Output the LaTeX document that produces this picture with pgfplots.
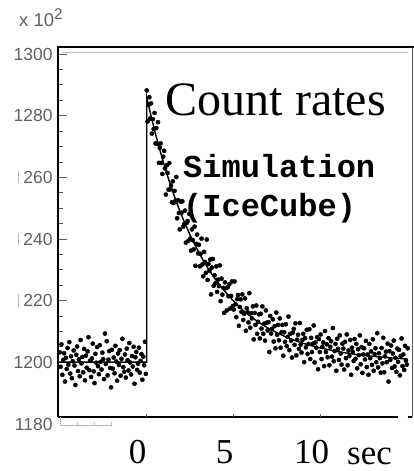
\documentclass[border=0pt]{standalone}
\usepackage{pgfplots}
\pgfplotsset{compat=1.18}
\usepackage{fontspec}
\setmainfont{Liberation Serif}
\newfontfamily\sansf{Liberation Sans}
\newfontfamily\monof{Liberation Mono}
\definecolor{tickgray}{gray}{0.35}
\definecolor{labgray}{gray}{0.38}
\newcommand{\stub}{\makebox[9.7pt][c]{\color{gray!55}\rule{0.8pt}{12.5pt}}}
\begin{document}
\begin{tikzpicture}
\begin{axis}[
  at={(0,0)}, anchor=south west,
  scale only axis, width=354pt, height=370pt,
  xmin=-5.1, xmax=15.25, ymin=1182.2, ymax=1302.3,
  axis line style={draw=none},
  clip=false,
  xtick={0,5,10}, xticklabels={0,5,10},
  minor x tick num=0,
  xtick pos=bottom, ytick pos=left,
  tick align=inside,
  ytick={1200,1220,1240,1260,1280,1300},
  yticklabels={1200,\stub 220,\stub 240,\stub 260,1280,1300},
  minor y tick num=3,
  major tick length=9pt, minor tick length=4.5pt,
  ytick style={tickgray, line width=0.8pt},
  xtick style={draw=none},
  xticklabel style={font=\fontsize{35}{35}\selectfont, inner sep=0pt, anchor=north, yshift=-23pt, xshift=-9pt},
  yticklabel style={font=\sansf\fontsize{17.5}{17.5}\selectfont, text=labgray, inner sep=0pt, anchor=east, xshift=-5.3pt},
  /pgf/number format/assume math mode=true,
]
% frame
\draw[black, line width=1.6pt] (rel axis cs:0,0) -- (rel axis cs:0,1) -- (rel axis cs:1.005,1);
\draw[black, line width=1.6pt] (rel axis cs:0,0) -- (rel axis cs:0.96,0);
\draw[black, line width=1.6pt] (rel axis cs:0.988,0) -- (rel axis cs:1,0);
\draw[gray!70!black, line width=0.7pt] (rel axis cs:1,1) -- (rel axis cs:1,0);
\draw[gray!55, line width=1.3pt] (rel axis cs:0.012,0.985) -- (rel axis cs:0.99,0.985);
% small x ticks
\draw[tickgray, line width=0.8pt] (axis cs:0,1182.2) -- (axis cs:0,1183.2);
\draw[tickgray, line width=0.8pt] (axis cs:5,1182.2) -- (axis cs:5,1183.2);
\draw[tickgray, line width=0.8pt] (axis cs:10,1182.2) -- (axis cs:10,1183.2);

\addplot[only marks, mark=*, mark size=2.1pt, black] table {
x y
-5.00 1203.2
-4.95 1198.5
-4.90 1205.8
-4.85 1195.9
-4.80 1200.7
-4.75 1202.9
-4.70 1193.7
-4.65 1201.4
-4.60 1197.8
-4.55 1204.6
-4.50 1199.2
-4.45 1206.5
-4.40 1196.3
-4.35 1201.9
-4.30 1194.8
-4.25 1200.3
-4.20 1203.8
-4.15 1198.9
-4.10 1192.6
-4.05 1202.4
-4.00 1205.1
-3.95 1197.1
-3.90 1200.9
-3.85 1195.4
-3.80 1207.2
-3.75 1199.6
-3.70 1201.7
-3.65 1196.7
-3.60 1204.3
-3.55 1194.1
-3.50 1202.1
-3.45 1198.2
-3.40 1203.5
-3.35 1208.1
-3.30 1197.4
-3.25 1200.5
-3.20 1195.2
-3.15 1201.2
-3.10 1206.0
-3.05 1197.0
-3.00 1193.2
-2.95 1202.7
-2.90 1199.8
-2.85 1204.9
-2.80 1198.7
-2.75 1196.1
-2.70 1205.5
-2.65 1200.1
-2.60 1197.6
-2.55 1203.1
-2.50 1201.0
-2.45 1194.5
-2.40 1209.3
-2.35 1199.4
-2.30 1206.8
-2.25 1195.7
-2.20 1200.8
-2.15 1203.6
-2.10 1198.1
-2.05 1191.8
-2.00 1204.0
-1.95 1197.9
-1.90 1201.5
-1.85 1196.4
-1.80 1205.3
-1.75 1200.2
-1.70 1194.0
-1.65 1202.8
-1.60 1199.1
-1.55 1203.9
-1.50 1195.6
-1.45 1201.1
-1.40 1207.6
-1.35 1198.4
-1.30 1196.9
-1.25 1202.5
-1.20 1195.0
-1.15 1204.4
-1.10 1200.6
-1.05 1197.3
-1.00 1206.2
-0.95 1199.9
-0.90 1196.0
-0.85 1202.0
-0.80 1198.6
-0.75 1205.0
-0.70 1193.0
-0.65 1201.6
-0.60 1203.3
-0.55 1197.5
-0.50 1199.5
-0.45 1204.7
-0.40 1196.6
-0.35 1200.4
-0.30 1202.6
-0.25 1194.3
-0.20 1201.8
-0.15 1199.0
-0.10 1206.6
-0.05 1196.2
0.00 1288.2
0.05 1278.1
0.10 1283.5
0.15 1286.0
0.20 1279.1
0.25 1284.0
0.30 1274.2
0.35 1278.9
0.40 1275.7
0.45 1280.9
0.50 1271.0
0.55 1276.0
0.60 1270.9
0.65 1277.9
0.70 1264.7
0.75 1269.6
0.80 1271.0
0.85 1264.7
0.90 1261.1
0.95 1266.7
1.00 1268.6
1.05 1262.9
1.10 1254.4
1.15 1263.9
1.20 1261.4
1.25 1256.0
1.30 1264.6
1.35 1256.1
1.40 1257.3
1.45 1251.9
1.50 1258.7
1.55 1251.7
1.60 1255.6
1.65 1252.4
1.70 1260.1
1.75 1246.7
1.80 1252.6
1.85 1248.4
1.90 1243.1
1.95 1252.1
2.00 1248.5
2.05 1252.2
2.10 1244.0
2.15 1244.8
2.20 1249.2
2.25 1238.8
2.30 1245.2
2.35 1245.8
2.40 1239.4
2.45 1248.1
2.50 1240.1
2.55 1236.2
2.60 1243.1
2.65 1239.6
2.70 1236.6
2.75 1244.0
2.80 1231.3
2.85 1238.4
2.90 1241.4
2.95 1235.3
3.00 1238.1
3.05 1231.1
3.10 1235.2
3.15 1240.1
3.20 1231.7
3.25 1227.9
3.30 1235.8
3.35 1232.5
3.40 1229.0
3.45 1239.8
3.50 1226.7
3.55 1231.9
3.60 1229.7
3.65 1233.3
3.70 1222.0
3.75 1230.7
3.80 1233.5
3.85 1224.8
3.90 1228.2
3.95 1225.6
4.00 1231.1
4.05 1222.8
4.10 1226.8
4.15 1224.7
4.20 1231.4
4.25 1219.8
4.30 1227.1
4.35 1221.9
4.40 1224.1
4.45 1216.0
4.50 1225.9
4.55 1224.0
4.60 1216.8
4.65 1224.3
4.70 1221.4
4.75 1225.3
4.80 1217.4
4.85 1221.5
4.90 1226.2
4.95 1218.2
5.00 1217.1
5.05 1226.2
5.10 1218.8
5.15 1214.6
5.20 1220.5
5.25 1221.8
5.30 1211.8
5.35 1217.9
5.40 1220.4
5.45 1216.3
5.50 1222.0
5.55 1213.7
5.60 1215.7
5.65 1220.7
5.70 1210.2
5.75 1217.5
5.80 1216.2
5.85 1212.9
5.90 1222.4
5.95 1211.2
6.00 1215.9
6.05 1214.2
6.10 1218.1
6.15 1207.4
6.20 1216.0
6.25 1212.1
6.30 1218.4
6.35 1209.2
6.40 1213.1
6.45 1215.5
6.50 1207.7
6.55 1215.7
6.60 1210.9
6.65 1218.1
6.70 1209.2
6.75 1212.5
6.80 1207.0
6.85 1216.8
6.90 1212.8
6.95 1210.3
7.00 1213.0
7.05 1203.3
7.10 1215.0
7.15 1209.3
7.20 1210.8
7.25 1213.9
7.30 1206.7
7.35 1211.7
7.40 1204.5
7.45 1216.1
7.50 1208.9
7.55 1212.1
7.60 1207.1
7.65 1214.2
7.70 1204.7
7.75 1209.7
7.80 1212.1
7.85 1202.1
7.90 1209.7
7.95 1206.6
8.00 1212.3
8.05 1205.2
8.10 1208.2
8.15 1214.8
8.20 1203.9
8.25 1209.2
8.30 1207.0
8.35 1201.5
8.40 1209.6
8.45 1210.8
8.50 1205.6
8.55 1212.6
8.60 1202.2
8.65 1207.3
8.70 1208.9
8.75 1204.3
8.80 1212.7
8.85 1205.7
8.90 1203.1
8.95 1207.2
9.00 1209.2
9.05 1200.0
9.10 1207.8
9.15 1204.8
9.20 1210.5
9.25 1202.7
9.30 1205.9
9.35 1210.7
9.40 1201.0
9.45 1207.9
9.50 1203.3
9.55 1206.0
9.60 1211.9
9.65 1199.9
9.70 1206.4
9.75 1204.7
9.80 1208.1
9.85 1197.7
9.90 1207.5
9.95 1203.3
10.00 1209.0
10.05 1201.0
10.10 1205.0
10.15 1206.4
10.20 1198.7
10.25 1210.1
10.30 1203.3
10.35 1205.8
10.40 1201.6
10.45 1207.8
10.50 1199.0
10.55 1205.0
10.60 1206.8
10.65 1201.8
10.70 1211.1
10.75 1200.3
10.80 1203.6
10.85 1205.9
10.90 1197.2
10.95 1207.6
11.00 1204.3
11.05 1200.7
11.10 1208.7
11.15 1202.8
11.20 1199.2
11.25 1206.0
11.30 1204.4
11.35 1197.6
11.40 1206.6
11.45 1201.3
11.50 1209.0
11.55 1199.0
11.60 1203.8
11.65 1202.0
11.70 1207.2
11.75 1195.9
11.80 1204.7
11.85 1203.3
11.90 1200.4
11.95 1207.5
12.00 1201.1
12.05 1205.9
12.10 1198.0
12.15 1204.2
12.20 1202.3
12.25 1208.7
12.30 1199.3
12.35 1204.9
12.40 1196.5
12.45 1202.5
12.50 1204.5
12.55 1200.9
12.60 1206.9
12.65 1198.4
12.70 1202.5
12.75 1195.9
12.80 1205.9
12.85 1201.3
12.90 1203.5
12.95 1199.1
13.00 1207.4
13.05 1197.2
13.10 1202.6
13.15 1204.5
13.20 1200.0
13.25 1209.4
13.30 1198.3
13.35 1202.9
13.40 1201.3
13.45 1196.6
13.50 1204.6
13.55 1199.6
13.60 1207.9
13.65 1196.7
13.70 1201.9
13.75 1203.4
13.80 1200.0
13.85 1206.0
13.90 1193.7
13.95 1203.6
14.00 1200.7
14.05 1205.4
14.10 1198.1
14.15 1202.8
14.20 1207.0
14.25 1198.6
14.30 1201.4
14.35 1196.9
14.40 1204.4
14.45 1200.1
14.50 1204.0
14.55 1195.7
14.60 1202.0
14.65 1207.7
14.70 1198.7
14.75 1202.5
14.80 1197.5
14.85 1205.3
14.90 1200.5
14.95 1199.2
15.00 1204.5
};

\addplot[black, line width=1.4pt] coordinates {
(-5.05,1200) (0,1200) (0,1286) (0.25,1279.9) (0.5,1274.2) (0.75,1269.0)
(1,1264.1) (1.25,1259.5) (1.5,1255.3) (1.75,1251.4) (2,1247.7) (2.25,1244.4)
(2.5,1241.2) (2.75,1238.3) (3,1235.6) (3.25,1233.0) (3.5,1230.7) (3.75,1228.5)
(4,1226.5) (4.5,1222.9) (5,1219.8) (5.5,1217.0) (6,1214.7) (6.5,1212.7)
(7,1211.0) (7.5,1209.5) (8,1208.2) (8.5,1207.1) (9,1206.1) (9.5,1205.3)
(10,1204.6) (11,1203.4) (12,1202.5) (13,1201.9) (14,1201.4) (15,1201.0)
};

\node[anchor=base west, inner sep=0pt, font=\fontsize{48}{48}\selectfont] at (rel axis cs:0.304,0.816) {Count rates};
\node[anchor=base west, inner sep=0pt, font=\monof\bfseries\fontsize{32}{32}\selectfont] at (rel axis cs:0.353,0.646) {Simulation};
\node[anchor=base west, inner sep=0pt, font=\monof\bfseries\fontsize{32}{32}\selectfont] at (rel axis cs:0.353,0.543) {(IceCube)};
\end{axis}
% remnant of lower axis (canvas coordinates, axis SW at origin)
\draw[gray!55, line width=0.7pt] (2pt,0pt) -- (2pt,-8pt) -- (54pt,-8pt);
\draw[gray!55, line width=0.7pt] (19pt,-8pt) -- (19pt,-4.5pt);
\draw[gray!55, line width=0.7pt] (36pt,-8pt) -- (36pt,-4.5pt);
\draw[gray!55, line width=0.7pt] (53pt,-8pt) -- (53pt,-4.5pt);
\node[anchor=base, inner sep=0pt, font=\fontsize{35}{35}\selectfont] at (311.5pt,-47pt) {sec};
\node[anchor=east, inner sep=0pt, font=\sansf\fontsize{17.5}{17.5}\selectfont, text=labgray] at (-5.3pt,-7pt) {1180};
\node[anchor=base, inner sep=0pt, font=\sansf\fontsize{18.5}{18.5}\selectfont, text=labgray] at (-17pt,390pt) {x 10\raisebox{7.5pt}{\fontsize{15.5}{15.5}\selectfont 2}};
\pgfresetboundingbox
\path (-58pt,-54pt) rectangle (356pt,417pt);
\end{tikzpicture}
\end{document}
